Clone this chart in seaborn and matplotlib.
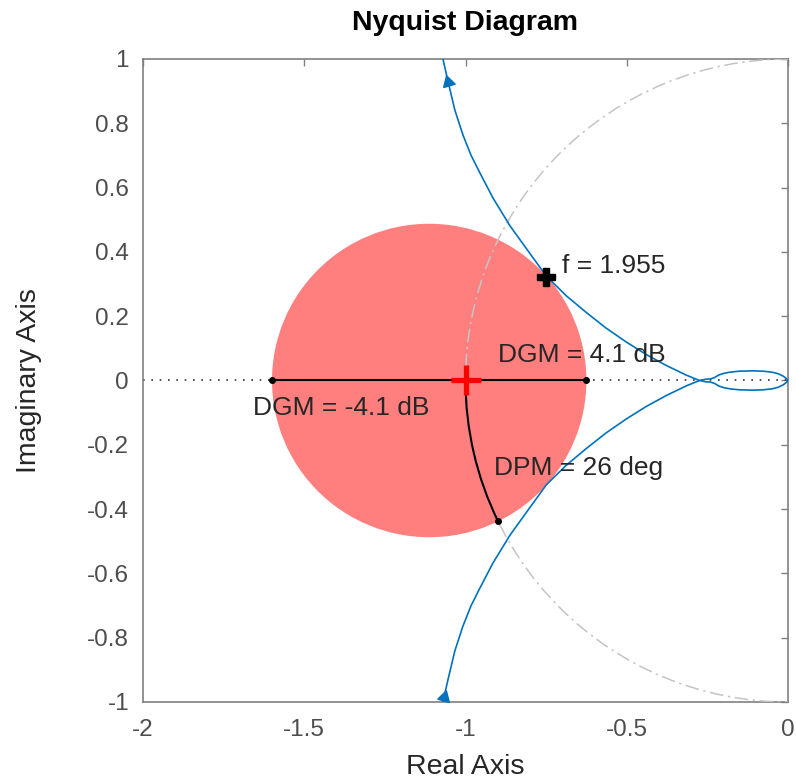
import numpy as np
import pandas as pd
import matplotlib
matplotlib.use("Agg")
import matplotlib.pyplot as plt
from matplotlib.patches import Circle, Arc
import seaborn as sns

# ---------------- data ----------------
# Nyquist curve, one branch (the other branch is its complex conjugate)
branch_x = [-1.070, -1.054, -1.033, -1.008, -0.983, -0.955, -0.915, -0.862,
            -0.806, -0.749, -0.688, -0.626, -0.564, -0.502, -0.440, -0.378,
            -0.316, -0.282, -0.273, -0.255, -0.240, -0.228, -0.215, -0.200,
            -0.180, -0.150, -0.110, -0.078, -0.050, -0.030, -0.014, -0.004,
            0.000]
branch_y = [1.000, 0.929, 0.841, 0.764, 0.701, 0.645, 0.568, 0.481,
            0.403, 0.324, 0.264, 0.212, 0.163, 0.120, 0.081, 0.047,
            0.017, 0.003, 0.000, -0.004, -0.005, -0.009, -0.017, -0.022,
            -0.026, -0.029, -0.030, -0.029, -0.026, -0.021, -0.013, -0.005,
            0.000]

# direction arrows (x, y, rotation deg)
arrow_x = [-1.054, -1.068]
arrow_y = [0.928, -0.984]
arrow_rot = [16, -16]

# disk margin values
dgm_db = 4.1
gm_low_x = -1.600     # DGM = -4.1 dB point
gm_high_x = -0.625    # DGM = +4.1 dB point
dpm_deg = 26
critical_point = (-1.0, 0.0)
freq_marker = (-0.749, 0.322)
freq_label = "f = 1.955"

xticks = [-2, -1.5, -1, -0.5, 0]
xticklabels = ["-2", "-1.5", "-1", "-0.5", "0"]
yticks = [-1, -0.8, -0.6, -0.4, -0.2, 0, 0.2, 0.4, 0.6, 0.8, 1]
yticklabels = ["-1", "-0.8", "-0.6", "-0.4", "-0.2", "0", "0.2", "0.4", "0.6", "0.8", "1"]

# ---------------- style ----------------
sns.set_theme(style="white")
plt.rcParams['font.family'] = ['Liberation Sans', 'DejaVu Sans']

W, H, DPI = 796, 781, 100
fig = plt.figure(figsize=(W / DPI, H / DPI), dpi=DPI)
ax = fig.add_axes([143 / W, 1 - 702 / H, 645 / W, 643 / H])

blue = "#0072BD"
axis_grey = "#808080"
label_grey = "#4d4d4d"

# real axis dotted line
ax.plot([-2, 0], [0, 0], linestyle=(0, (1, 4)), color="#333333", lw=1.2, zorder=1)

# disk margin disk
center = (gm_low_x + gm_high_x) / 2
radius = (gm_high_x - gm_low_x) / 2
ax.add_patch(Circle((center, 0), radius, facecolor="#FF7F7F", edgecolor="none", zorder=2))

# unit circle (dash-dot)
ax.add_patch(Arc((0, 0), 2, 2, theta1=90, theta2=270, color="#c4c4c4",
                 lw=1.1, linestyle=(0, (9, 3, 1.5, 3)), zorder=3))

# Nyquist curve via seaborn
df = pd.DataFrame({
    "x": branch_x + branch_x[::-1],
    "y": branch_y + [-v for v in branch_y[::-1]],
    "branch": ["neg"] * len(branch_x) + ["pos"] * len(branch_x),
})
for b, d in df.groupby("branch"):
    sns.lineplot(data=d, x="x", y="y", sort=False, estimator=None, color=blue,
                 lw=1.2, ax=ax, zorder=4)

for xa, ya, rot in zip(arrow_x, arrow_y, arrow_rot):
    ax.plot([xa], [ya], marker=(3, 0, rot), markersize=10, color=blue,
            markeredgecolor=blue, zorder=5, clip_on=False)

# gain margin line
ax.plot([gm_low_x, gm_high_x], [0, 0], color="black", lw=1.5, zorder=5)
ax.plot([gm_low_x, gm_high_x], [0, 0], linestyle="none", marker="o",
        markersize=4, color="black", zorder=6)

# phase margin arc
ax.add_patch(Arc((0, 0), 2, 2, theta1=180, theta2=180 + dpm_deg, color="black",
                 lw=1.5, zorder=5))
pm_end = (np.cos(np.deg2rad(180 + dpm_deg)), np.sin(np.deg2rad(180 + dpm_deg)))
ax.plot([pm_end[0]], [pm_end[1]], marker="o", markersize=4, color="black", zorder=6)

# critical point
ax.plot([critical_point[0]], [critical_point[1]], marker="+", markersize=21,
        mew=3.8, color="red", zorder=7)

# frequency marker
ax.plot([freq_marker[0]], [freq_marker[1]], marker="P", markersize=13,
        color="black", zorder=7)

# annotations
tfs = 19
ax.text(-0.701, 0.356, freq_label, fontsize=tfs, color="#262626", va="center", zorder=8)
ax.text(-0.899, 0.079, f"DGM = {dgm_db} dB", fontsize=tfs, color="#262626", va="center", zorder=8)
ax.text(-1.659, -0.086, f"DGM = -{dgm_db} dB", fontsize=tfs, color="#262626", va="center", zorder=8)
ax.text(-0.912, -0.272, f"DPM = {dpm_deg} deg", fontsize=tfs, color="#262626", va="center", zorder=8)

# axes formatting
ax.set_xlim(-2, 0)
ax.set_ylim(-1, 1)
ax.set_xticks(xticks)
ax.set_xticklabels(xticklabels)
ax.set_yticks(yticks)
ax.set_yticklabels(yticklabels)
ax.tick_params(direction="in", length=5, width=1, colors=axis_grey, labelcolor=label_grey,
               labelsize=17.5, top=True, right=True, pad=10)
ax.tick_params(axis="x", pad=12)
for s in ax.spines.values():
    s.set_color(axis_grey)
    s.set_linewidth(1.2)
    s.set_visible(True)

ax.set_xlabel("Real Axis", fontsize=20.5, color="#262626", va="center")
ax.set_ylabel("Imaginary Axis", fontsize=20.5, color="#262626", va="center")
ax.xaxis.set_label_coords(0.5, -(767 - 702) / 643)
ax.yaxis.set_label_coords(-(143 - 29) / 645, 0.5)
ax.set_title("Nyquist Diagram", fontsize=20.5, fontweight="bold", color="black", pad=21)

fig.savefig("out.png", dpi=DPI, facecolor="white")
